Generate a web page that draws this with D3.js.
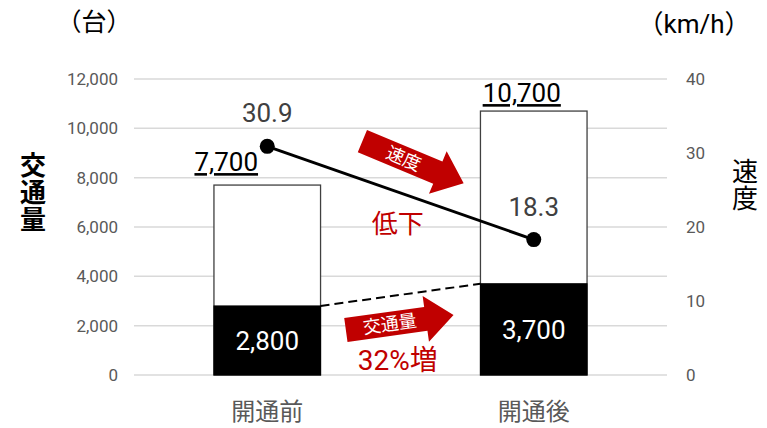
<!DOCTYPE html>
<html><head><meta charset="utf-8">
<script src="https://cdn.jsdelivr.net/npm/d3@7"></script>
<style>
html,body{margin:0;padding:0;background:#fff;}
svg{display:block;}
</style></head>
<body>
<svg id="chart" width="767" height="428"></svg>
<script>
const categories = ["開通前", "開通後"];
const volumeBase = [2800, 3700];
const volumeTotal = [7700, 10700];
const volumeBaseLabels = ["2,800", "3,700"];
const volumeTotalLabels = ["7,700", "10,700"];
const speed = [30.9, 18.3];
const speedLabels = ["30.9", "18.3"];
const leftTicks = [0, 2000, 4000, 6000, 8000, 10000, 12000];
const rightTicks = [0, 10, 20, 30, 40];

const svg = d3.select("#chart");
const W = 767, H = 428;
const m = {left: 134, right: 100, top: 79, bottom: 53};
const x = d3.scaleBand().domain(categories).range([m.left, W - m.right]).padding(0);
const yL = d3.scaleLinear().domain([0, 12000]).range([H - m.bottom, m.top]);
const yR = d3.scaleLinear().domain([0, 40]).range([H - m.bottom, m.top]);
const cx = c => x(c) + x.bandwidth() / 2;
const barW = x.bandwidth() * 0.4;
const numFont = "Roboto, Arial, 'Noto Sans CJK JP', sans-serif";
const jpFont = "'Noto Sans CJK JP', 'Noto Sans', sans-serif";
const red = "#c00000";

// gridlines
svg.append("g").selectAll("line").data(leftTicks).join("line")
  .attr("x1", m.left).attr("x2", W - m.right)
  .attr("y1", d => yL(d)).attr("y2", d => yL(d))
  .attr("stroke", "#d9d9d9").attr("stroke-width", 1.5);

// left axis
const axL = svg.append("g").attr("transform", `translate(${m.left - 14},0)`)
  .call(d3.axisLeft(yL).tickValues(leftTicks).tickFormat(d3.format(",")).tickSize(0).tickPadding(2));
axL.select(".domain").remove();
axL.selectAll("text").attr("font-family", numFont).attr("font-size", 17).attr("fill", "#595959");

// right axis
const axR = svg.append("g").attr("transform", `translate(${W - m.right + 17},0)`)
  .call(d3.axisRight(yR).tickValues(rightTicks).tickSize(0).tickPadding(2));
axR.select(".domain").remove();
axR.selectAll("text").attr("font-family", numFont).attr("font-size", 17).attr("fill", "#595959");

// category labels
svg.append("g").selectAll("text").data(categories).join("text")
  .attr("x", d => cx(d)).attr("y", 420)
  .attr("text-anchor", "middle").attr("font-family", jpFont).attr("font-size", 24)
  .attr("fill", "#595959").text(d => d);

// bars: total (white) and base (black)
svg.append("g").selectAll("rect").data(categories).join("rect")
  .attr("x", d => cx(d) - barW / 2).attr("width", barW)
  .attr("y", (d, i) => yL(volumeTotal[i]))
  .attr("height", (d, i) => yL(0) - yL(volumeTotal[i]))
  .attr("fill", "#fff").attr("stroke", "#404040").attr("stroke-width", 1.3);
svg.append("g").selectAll("rect").data(categories).join("rect")
  .attr("x", d => cx(d) - barW / 2).attr("width", barW)
  .attr("y", (d, i) => yL(volumeBase[i]))
  .attr("height", (d, i) => yL(0) - yL(volumeBase[i]))
  .attr("fill", "#000").attr("stroke", "#000").attr("stroke-width", 1);

// dashed connector
svg.append("line")
  .attr("x1", cx(categories[0]) + barW / 2).attr("y1", yL(volumeBase[0]))
  .attr("x2", cx(categories[1]) - barW / 2).attr("y2", yL(volumeBase[1]))
  .attr("stroke", "#000").attr("stroke-width", 2).attr("stroke-dasharray", "9,5");

// base labels inside
svg.append("g").selectAll("text").data(categories).join("text")
  .attr("x", d => cx(d)).attr("y", (d, i) => (yL(volumeBase[i]) + yL(0)) / 2)
  .attr("dy", "0.36em").attr("text-anchor", "middle")
  .attr("font-family", numFont).attr("font-size", 26).attr("fill", "#fff")
  .text((d, i) => volumeBaseLabels[i]);

// total labels (underlined)
const totOffX = [-41, -12];
const totOffY = [-14, -9];
svg.append("g").selectAll("text").data(categories).join("text")
  .attr("x", (d, i) => cx(d) + totOffX[i]).attr("y", (d, i) => yL(volumeTotal[i]) + totOffY[i])
  .attr("text-anchor", "middle").attr("font-family", numFont).attr("font-size", 26)
  .attr("fill", "#000").attr("text-decoration", "underline").style("text-decoration", "underline")
  .text((d, i) => volumeTotalLabels[i]);

// speed line
const line = d3.line().x((d, i) => cx(categories[i])).y(d => yR(d));
svg.append("path").datum(speed).attr("d", line)
  .attr("fill", "none").attr("stroke", "#000").attr("stroke-width", 3);
svg.append("g").selectAll("circle").data(speed).join("circle")
  .attr("cx", (d, i) => cx(categories[i])).attr("cy", d => yR(d)).attr("r", 7.5).attr("fill", "#000");
svg.append("g").selectAll("text").data(speed).join("text")
  .attr("x", (d, i) => cx(categories[i])).attr("y", d => yR(d) - 24)
  .attr("text-anchor", "middle").attr("font-family", numFont).attr("font-size", 26).attr("fill", "#404040")
  .text((d, i) => speedLabels[i]);

// arrows
function arrow(p0, p1, label, fs) {
  const dx = p1[0] - p0[0], dy = p1[1] - p0[1];
  const L = Math.hypot(dx, dy), ang = Math.atan2(dy, dx) * 180 / Math.PI;
  const bw = 12, hw = 23, hl = 28;
  const pts = [[0, -bw], [L - hl, -bw], [L - hl, -hw], [L, 0], [L - hl, hw], [L - hl, bw], [0, bw]];
  const g = svg.append("g").attr("transform", `translate(${p0[0]},${p0[1]}) rotate(${ang})`);
  g.append("path").attr("d", "M" + pts.map(p => p.join(",")).join("L") + "Z").attr("fill", red);
  g.append("text").attr("x", (L - hl) / 2 + 4).attr("y", 0).attr("dy", "0.36em")
    .attr("text-anchor", "middle").attr("font-family", jpFont).attr("font-size", fs)
    .attr("fill", "#fff").text(label);
}
const c0 = cx(categories[0]), c1 = cx(categories[1]), span = c1 - c0;
arrow([c0 + 0.357 * span, yR(31.6)], [c0 + 0.737 * span, yR(25.9)], "速度", 18);
arrow([c0 + 0.295 * span, yL(1824)], [c0 + 0.699 * span, yL(2432)], "交通量", 18);

svg.append("text").attr("x", c0 + 0.49 * span).attr("y", yR(19.2))
  .attr("text-anchor", "middle").attr("font-family", jpFont).attr("font-size", 26).attr("fill", red).text("低下");
svg.append("text").attr("x", c0 + 0.49 * span).attr("y", yL(220))
  .attr("text-anchor", "middle").attr("font-family", numFont).attr("font-size", 28).attr("fill", red).text("32%増");

// axis titles
svg.append("text").attr("x", 94).attr("y", 31).attr("text-anchor", "middle")
  .attr("font-family", jpFont).attr("font-size", 25).attr("fill", "#000").text("（台）");
svg.append("text").attr("x", 694).attr("y", 33).attr("text-anchor", "middle")
  .attr("font-family", numFont).attr("font-size", 26).attr("fill", "#000").text("（km/h）");
svg.append("text").attr("x", 33).attr("y", 152)
  .style("writing-mode", "vertical-rl").style("letter-spacing", "1px")
  .attr("font-family", jpFont).attr("font-size", 26).attr("font-weight", 600).attr("fill", "#000").text("交通量");
svg.append("text").attr("x", 745).attr("y", 158)
  .style("writing-mode", "vertical-rl").style("letter-spacing", "1px")
  .attr("font-family", jpFont).attr("font-size", 26).attr("fill", "#000").text("速度");
</script>
</body></html>
